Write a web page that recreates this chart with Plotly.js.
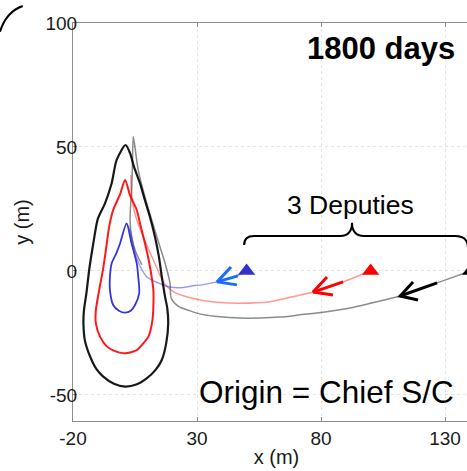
<!DOCTYPE html>
<html>
<head>
<meta charset="utf-8">
<script src="https://cdn.plot.ly/plotly-3.0.1.min.js"></script>
<style>
  html, body { margin: 0; padding: 0; background: #fff; overflow: hidden; }
  #frame { width: 467px; height: 471px; overflow: hidden; }
  #chart { width: 480px; height: 471px; }
</style>
</head>
<body>
<div id="frame"><div id="chart"></div></div>
<script>
// Relative positions (m) of three deputy spacecraft around the chief after 1800 days.

// Deputy starting positions
var startX = [50, 100, 140.3];
var startY = [0, 0, 0];
var startColors = ['#3232c8', '#ff0000', '#000000'];

// Early approach paths (faded)
var blueApproachX = [50, 44, 38.1, 33, 28.5, 23.1, 19, 16.4, 12.5, 9.7, 7, 5, 3, 1.6];
var blueApproachY = [0, -2.8, -4.4, -5.4, -6, -6.8, -6.5, -5.6, -4, -2.3, 2, 7.1, 16.5, 19.2];

var redApproachX = [100, 88.9, 76.8, 68, 59.4, 47.3, 38, 31.2, 24.5, 20.4, 17.2, 15, 12.4, 9.5, 7, 4.6, 3.6, 3.3];
var redApproachY = [0, -4.4, -8.5, -10.5, -12.4, -13, -12.6, -11.7, -10, -8.3, -5.5, -1.5, 4.4, 11, 17, 24.6, 32, 38.7];

var blackApproachX = [140.3, 126.8, 111.9, 100, 91.7, 80, 71.5, 63.5, 55.4, 47, 39.3, 32, 27.2, 22.5, 19.6, 19.1, 17.1, 13.8, 9.7, 6.3, 4.3,
                      4.0, 3.7, 3.2, 3.0, 3.6, 5.2, 7.8];
var blackApproachY = [0, -4.8, -10.1, -13, -14.9, -16.7, -17.7, -18.6, -19, -19, -18.5, -17.5, -16.1, -14.3, -11, -4.8, 3.2, 13.8, 27.4, 40.7, 54.2,
                      44, 34, 26, 20.6, 14, 8, 2.5];

// Closed relative-motion loops
var blueLoopX = [1.6, -1, -2.6, -4.4, -5.1, -5.1, -3.8, -1.5, 1, 3.3, 5, 6.7, 6.3, 5.7, 3.6, 1.6];
var blueLoopY = [19.2, 11.2, 7, 3.1, -2.3, -7.7, -13.7, -16, -16.8, -16, -13.7, -9, -2.3, 3.1, 11.2, 19.2];

var redLoopX = [1, -1, -3.8, -5.4, -6.8, -8, -9.5, -10.8, -10.8, -9.1, -6.5, -3.8, 1, 5.7, 8.5, 10.4, 12, 12.4, 12.4, 11.7, 10.5, 9, 7.3, 5.7, 3, 1];
var redLoopY = [36.7, 31, 24.6, 18, 8, 0, -8, -16, -21, -26.5, -30.3, -32, -33.2, -31.9, -29, -26.5, -20, -14.4, -7.7, -2.3, 4.5, 11.2, 18, 24.6, 30.5, 36.7];

var blackLoopX = [1.2, -2.4, -4.4, -7.1, -10, -11.8, -13.4, -14.6, -15.6, -15.8, -15.2, -13.1, -10.6, -7.8, -3.5, 1, 5.5, 9.7, 13.2, 15.8, 17.6, 18.4, 18, 17.1, 15.8, 14.6, 13, 11, 9, 7, 4.6, 3, 1.2];
var blackLoopY = [50.8, 44.8, 35.4, 27.3, 21, 11.2, 1, -9, -16, -21, -28, -34.5, -39.5, -42.6, -45.5, -46.6, -45.8, -43.3, -40, -35.9, -29, -21, -15, -10.3, -2.3, 6, 14, 21.9, 28.5, 35.4, 42, 47.5, 50.8];

// Direction arrows: tail, tip, gap, upper barb, tip, lower barb
var blueArrowX = [46.5, 38.1, null, 43.7, 38.1, 46.1];
var blueArrowY = [-2, -4.4, null, 1.6, -4.4, -5.6];
var redArrowX = [88.9, 76.8, null, 82.4, 76.8, 84.8];
var redArrowY = [-4.4, -8.5, null, -2.4, -8.5, -9.7];
var blackArrowX = [126.8, 111.9, null, 117.1, 111.9, 119.1];
var blackArrowY = [-4.8, -10.1, null, -4.4, -10.1, -11.7];

// Axis ticks
var xTicks = [-20, 30, 80, 130];
var yTicks = [-50, 0, 50, 100];

var FONT = 'Liberation Sans, Arial, Helvetica, sans-serif';

function line(x, y, color, width, opacity) {
  return {
    type: 'scatter', mode: 'lines', x: x, y: y, opacity: opacity,
    line: { color: color, width: width, shape: 'spline', smoothing: 0.7 },
    hoverinfo: 'skip', showlegend: false
  };
}
function arrow(x, y, color) {
  return {
    type: 'scatter', mode: 'lines', x: x, y: y,
    line: { color: color, width: 3 }, hoverinfo: 'skip', showlegend: false
  };
}

var traces = [
  line(blackApproachX, blackApproachY, '#000000', 1.5, 0.45),
  line(redApproachX, redApproachY, '#ff0000', 1.5, 0.4),
  line(blueApproachX, blueApproachY, '#2020e6', 1.5, 0.45),
  line(blackLoopX, blackLoopY, '#000000', 2.2, 0.9),
  line(redLoopX, redLoopY, '#ff0000', 2, 0.9),
  line(blueLoopX, blueLoopY, '#1e1ee6', 1.8, 0.9),
  arrow(blueArrowX, blueArrowY, '#1a6cff'),
  arrow(redArrowX, redArrowY, '#ff0000'),
  arrow(blackArrowX, blackArrowY, '#000000'),
  {
    type: 'scatter', mode: 'markers', x: startX, y: startY,
    marker: { symbol: 'triangle-up', size: 15, color: startColors, line: { width: 0 } },
    hoverinfo: 'skip', showlegend: false, cliponaxis: false
  }
];

// The figure runs a little past the right edge of the 467 px frame,
// so the outer deputy and the right end of the brace are cut off.
var layout = {
  width: 480, height: 471,
  margin: { l: 73, r: 0, t: 23, b: 50, pad: 0 },
  paper_bgcolor: '#ffffff', plot_bgcolor: '#ffffff',
  font: { family: FONT, color: '#1a1a1a' },
  showlegend: false,
  xaxis: {
    range: [-20, 144.1], tickvals: xTicks, ticktext: xTicks.map(String),
    ticks: 'inside', ticklen: 4, tickcolor: '#8c8c8c', tickwidth: 1,
    showline: true, linecolor: '#8c8c8c', linewidth: 1, mirror: 'allticks',
    showgrid: true, gridcolor: '#e4e4e4', griddash: 'dot', gridwidth: 1, zeroline: false,
    tickfont: { family: FONT, size: 19, color: '#1a1a1a' },
    title: { text: 'x (m)', font: { family: FONT, size: 20, color: '#1a1a1a' }, standoff: 2 }
  },
  yaxis: {
    range: [-60.5, 100], tickvals: yTicks, ticktext: yTicks.map(String),
    ticks: 'inside', ticklen: 4, tickcolor: '#8c8c8c', tickwidth: 1,
    showline: true, linecolor: '#8c8c8c', linewidth: 1, mirror: false,
    showgrid: true, gridcolor: '#e4e4e4', griddash: 'dot', gridwidth: 1, zeroline: false,
    ticklabelstandoff: -9,
    tickfont: { family: FONT, size: 19, color: '#1a1a1a' },
    title: { text: 'y (m)', font: { family: FONT, size: 20, color: '#1a1a1a' }, standoff: 10 }
  },
  shapes: [
    // curly brace grouping the three deputies
    {
      type: 'path', xref: 'x', yref: 'y',
      path: 'M49,10.5 Q49,14.1 53,14.1 L87.7,14.1 Q92.5,14.1 92.5,19.4 Q92.5,14.1 97.3,14.1 L134,14.1 Q139.2,14.1 139.2,9.5',
      line: { color: '#000000', width: 2 }
    },
    // arc in the upper-left corner
    {
      type: 'path', xref: 'paper', yref: 'paper',
      path: 'M-0.1794,0.978 Q-0.1646,1.0276 -0.1236,1.0427',
      line: { color: '#000000', width: 2 }
    }
  ],
  annotations: [
    { text: '<b>1800 days</b>', xref: 'x', yref: 'paper', x: 104.1, y: 0.937,
      xanchor: 'center', yanchor: 'middle', showarrow: false,
      font: { family: FONT, size: 31, color: '#000000' } },
    { text: '3 Deputies', xref: 'x', yref: 'paper', x: 91.9, y: 0.5427,
      xanchor: 'center', yanchor: 'middle', showarrow: false,
      font: { family: FONT, size: 26.5, color: '#000000' } },
    { text: 'Origin = Chief S/C', xref: 'x', yref: 'paper', x: 82.2, y: 0.0729,
      xanchor: 'center', yanchor: 'middle', showarrow: false,
      font: { family: FONT, size: 31.5, color: '#000000' } }
  ]
};

Plotly.newPlot('chart', traces, layout, { staticPlot: true, displayModeBar: false });
</script>
</body>
</html>
